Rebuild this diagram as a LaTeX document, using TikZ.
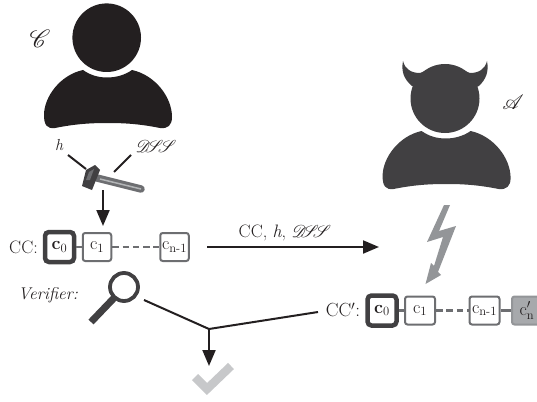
\RequirePackage{fix-cm}
\documentclass[tikz,border=0pt]{standalone}
\usepackage{mathrsfs}
\usepackage{amsmath}
\usetikzlibrary{arrows.meta}
\definecolor{ink}{HTML}{231F20}
\definecolor{devil}{HTML}{414042}
\definecolor{boxgray}{HTML}{6D6E71}
\definecolor{lightn}{HTML}{939598}
\definecolor{ticky}{HTML}{C7C8CA}
\definecolor{modbox}{HTML}{A7A9AC}
\newcommand{\fs}[1]{\fontsize{#1}{#1}\selectfont}
\newcommand{\dss}{\ensuremath{\mathscr{D}\!\!\mathscr{S}\!\!\mathscr{S}}}
\newcommand{\bodyshape}{(83,70) .. controls (90,75) and (98,77.5) .. (107,77.5) .. controls (116,77.5) and (125,75) .. (132,70) .. controls (155,75) and (172,97) .. (172,117) .. controls (172,125) and (168,129) .. (160,128) .. controls (140,124) and (125,123) .. (108,123) .. controls (90,123) and (75,124) .. (55,128) .. controls (47,129) and (44,125) .. (44,115) .. controls (44,97) and (60,75) .. (83,70) -- cycle}
\tikzset{
  x=1pt,y=-1pt,
  chainbox/.style={draw=boxgray,line width=2pt,rounded corners=2.5pt,fill=white,minimum width=28.5pt,minimum height=28pt,inner sep=0pt,text=ink,font=\fs{18}},
  rootbox/.style={chainbox,draw=devil,line width=4.5pt,minimum width=29pt,minimum height=30pt,rounded corners=4pt},
  modifiedbox/.style={chainbox,fill=modbox,draw=lightn},
  link/.style={draw=boxgray,line width=2.4pt},
  dashlink/.style={link,dash pattern=on 6.5pt off 3.8pt},
  conn/.style={draw=ink,line width=2pt},
  arrowconn/.style={conn,-{Triangle[length=16pt,width=13pt]}},
  lab/.style={inner sep=0pt,text=ink},
}
\begin{document}
\begin{tikzpicture}[line join=miter]
\useasboundingbox (0,0) rectangle (537,401);
\clip (0,0) rectangle (537,401);
% creator
\fill[ink] (106.7,37.7) circle[radius=34.3];
\fill[ink] \bodyshape;
% adversary
\begin{scope}[shift={(338.6,61)}]
\fill[devil] \bodyshape;
\end{scope}
\fill[devil] (445,98.5) circle[radius=34.5];
\fill[devil] (403,61) .. controls (405,69) and (411,73) .. (420,73) .. controls (428,70) and (436,64.5) .. (445,64.5) .. controls (454,64.5) and (462,70) .. (470,73) .. controls (479,73) and (485,69) .. (487,61) .. controls (489,72) and (486,79) .. (479,86) -- (445,100) -- (412,86) .. controls (404,79) and (401,72) .. (403,61) -- cycle;
\node[lab,font=\fs{24}] (clabel) at (40,39) {$\mathscr{C}$};
\node[lab,font=\fs{20}] (alabel) at (513,102) {$\mathscr{A}$};
\node[lab,font=\fs{16}\itshape] (hlabel) at (59,145) {h};
\node[lab,font=\fs{16}] (dsslabel) at (156,146) {\dss};
% hammer
\coordinate (hamL) at (86,169);
\coordinate (hamR) at (114,172);
\coordinate (hstart) at (68,155);
\coordinate (dstart) at (131,155);
\draw[conn] (hstart) -- (hamL);
\draw[conn] (dstart) -- (hamR);
\draw[draw=boxgray,line width=7.5pt,line cap=round] (97,178) -- (141,189);
\draw[draw=lightn!70,line width=1.5pt] (100,179) -- (141,189);
\fill[devil] (86,170) -- (95,165) -- (100,170) -- (92,190) -- (82,186) -- cycle;
\fill[boxgray] (89,172) -- (94,169) -- (90,180) -- (86,180) -- cycle;
% chain 1
\node[rootbox] (a0) at (59.5,247) {$\mathbf{c}_{0}$};
\node[chainbox] (a1) at (97,247) {$\mathrm{c}_{1}$};
\node[chainbox] (an) at (174.5,247) {$\mathrm{c}_{\mathrm{n\text{-}1}}$};
\draw[link] (a0) -- (a1);
\draw[dashlink] (a1) -- (an);
\node[lab,font=\fs{18}] (cclab) at (23.5,247.5) {CC:};
\coordinate (hamarrow) at (103,190);
\coordinate (hamtip) at (103,226);
\draw[arrowconn] (hamarrow) -- (hamtip);
% transfer
\coordinate (sendS) at (207,247);
\coordinate (sendE) at (379,247);
\draw[arrowconn] (sendS) -- (sendE);
\node[lab,font=\fs{18},anchor=base] (sendlab) at (285,237) {CC, {\itshape h}, \dss};
% lightning
\fill[lightn] (444,205) -- (450,205) -- (439,231) -- (456,226) -- (438,272) -- (441,275) -- (425.5,284) -- (431,263) -- (434,266) -- (443,237) -- (427,242) -- cycle;
% chain 2
\node[rootbox] (b0) at (382,310.5) {$\mathbf{c}_{0}$};
\node[chainbox,minimum width=30pt] (b1) at (420,310.5) {$\mathrm{c}_{1}$};
\node[chainbox,minimum width=30pt] (bn) at (484.5,310.5) {$\mathrm{c}_{\mathrm{n\text{-}1}}$};
\node[modifiedbox,minimum width=30pt] (bm) at (527,310.5) {$\mathrm{c}'_{\mathrm{n}}$};
\draw[link] (b0) -- (b1);
\draw[dashlink] (b1) -- (bn);
\draw[link] (bn) -- (bm);
\node[lab,font=\fs{19}] (cc2lab) at (343,310) {CC$'$:};
% verifier
\node[lab,font=\fs{17}\itshape] (verlab) at (48,295) {Verifier:};
\draw[devil,line width=3.8pt] (124,287) circle[radius=14];
\coordinate (magA) at (114,298);
\coordinate (magB) at (91,322);
\draw[devil,line width=7pt] (magA) -- (magB);
% verification lines
\coordinate (vs) at (144,300);
\coordinate (junc) at (209,329);
\coordinate (ve) at (318,312);
\coordinate (vtip) at (209,366);
\draw[conn] (vs) -- (junc) -- (ve);
\draw[arrowconn] (junc) -- (vtip);
% tick
\draw[ticky,line width=8.5pt] (195,377) -- (207,389) -- (231,366);
\end{tikzpicture}
\end{document}
